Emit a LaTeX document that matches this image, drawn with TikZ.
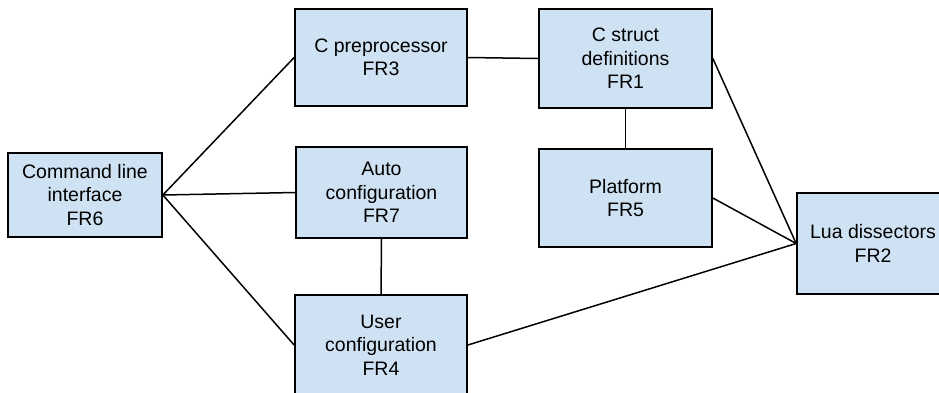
\documentclass[tikz,border=0pt]{standalone}
\usepackage{fontspec}
\setmainfont{Liberation Sans}
\definecolor{boxfill}{HTML}{CFE2F3}
\begin{document}
\begin{tikzpicture}[x=1pt,y=-1pt,
  blk/.style={draw=black, line width=1.7pt, fill=boxfill, inner sep=0pt, align=center,
    font=\fontsize{19.5}{23.5}\selectfont},
  link/.style={draw=black, line width=1.5pt}]
\useasboundingbox (0,0) rectangle (939,392);
\begin{scope}
\clip (0,0) rectangle (939,392);
\node[blk, minimum width=154pt, minimum height=84pt] (cli) at (85,195) {Command line\\interface\\FR6};
\node[blk, minimum width=172pt, minimum height=97pt] (cpp) at (381,57.5) {C preprocessor\\FR3};
\node[blk, minimum width=173pt, minimum height=99pt] (cst) at (625.5,58.5) {C struct\\definitions\\FR1};
\node[blk, minimum width=171pt, minimum height=91pt] (auto) at (381.5,192.5) {Auto\\configuration\\FR7};
\node[blk, minimum width=173pt, minimum height=98pt] (plat) at (625.5,198) {Platform\\FR5};
\node[blk, minimum width=172pt, minimum height=100pt] (user) at (381,345) {User\\configuration\\FR4};
\node[blk, minimum width=152pt, minimum height=101pt] (lua) at (873,243.5) {Lua dissectors\\FR2};
\draw[link] (cli.east) -- (cpp.west);
\draw[link] (cli.east) -- (auto.west);
\draw[link] (cli.east) -- (user.west);
\draw[link] (cpp.east) -- (cst.west);
\draw[link] (cst.south) -- (plat.north);
\draw[link] (auto.south) -- (user.north);
\draw[link] (cst.east) -- (lua.west);
\draw[link] (plat.east) -- (lua.west);
\draw[link] (user.east) -- (lua.west);
\end{scope}
\end{tikzpicture}
\end{document}
